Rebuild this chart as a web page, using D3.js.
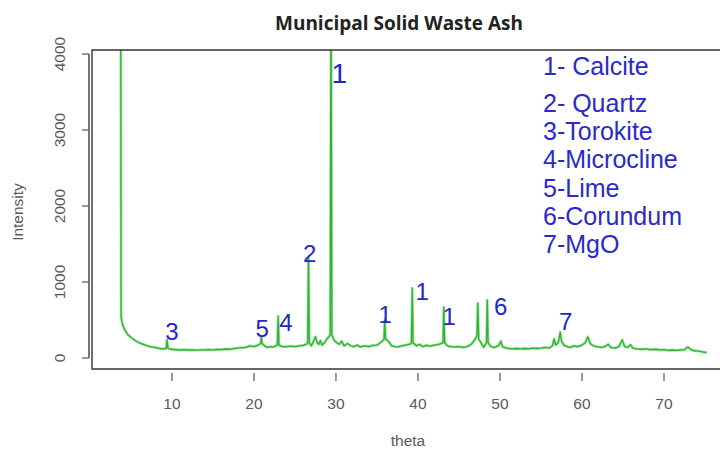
<!DOCTYPE html>
<html>
<head>
<meta charset="utf-8">
<script src="https://cdn.jsdelivr.net/npm/d3@7/dist/d3.min.js"></script>
<style>
  body { margin: 0; background: #fff; }
  svg { display: block; }
</style>
</head>
<body>
<svg id="chart" width="720" height="450"></svg>
<script>
// XRD pattern (theta, intensity)
var theta = [3.75, 3.8, 3.9, 4.0, 4.3, 4.6, 5.0, 5.5, 6.0, 6.5, 7.0, 7.5, 8.0, 8.5, 9.0, 9.3, 9.4, 9.5, 9.8,
  10.5, 11, 11.5, 12, 12.5, 13, 13.5, 14, 14.5, 15, 15.5, 16, 16.5, 17, 17.5, 18, 18.5, 19, 19.5, 20, 20.5,
  20.82, 20.9, 20.98, 21.3, 21.6, 22.0, 22.4, 22.85, 22.95, 23.05, 23.4, 24, 24.5, 25, 25.5, 26, 26.55, 26.65, 26.75,
  27.0, 27.3, 27.5, 27.7, 27.9, 28.1, 28.3, 28.6, 28.9, 29.3, 29.4, 29.5, 29.8, 30.1, 30.4, 30.7, 31.0, 31.4,
  31.8, 32.2, 32.6, 33, 33.5, 34, 34.5, 35, 35.4, 35.85, 35.95, 36.05, 36.4, 36.8, 37.2, 37.6, 38, 38.5, 39.2,
  39.3, 39.4, 39.8, 40.2, 40.6, 41, 41.5, 42, 42.5, 43.05, 43.15, 43.25, 43.6, 44, 44.5, 45, 45.5, 46, 46.5,
  47.0, 47.2, 47.3, 47.4, 47.7, 48.0, 48.35, 48.45, 48.55, 48.9, 49.3, 49.8, 50.1, 50.3, 50.8, 51.5, 52, 52.5,
  53, 53.5, 54, 54.5, 55, 55.5, 56.0, 56.4, 56.6, 56.8, 57.1, 57.35, 57.5, 57.8, 58.2, 58.6, 59, 59.5, 60.0,
  60.4, 60.7, 61.0, 61.4, 61.8, 62.3, 62.8, 63.2, 63.5, 64, 64.5, 64.9, 65.2, 65.6, 65.9, 66.2, 66.7, 67.2,
  67.8, 68.3, 69, 69.5, 70, 70.5, 71, 71.5, 72, 72.5, 72.9, 73.3, 73.7, 74.2, 74.7, 75.2];
var intensity = [5000, 540, 480, 430, 360, 310, 270, 230, 200, 180, 160, 145, 135, 125, 120, 125, 240, 130, 115,
  110, 105, 110, 105, 108, 104, 108, 106, 110, 108, 112, 110, 118, 115, 122, 130, 135, 140, 160, 150, 170,
  190, 280, 190, 160, 140, 150, 145, 170, 550, 170, 150, 150, 155, 150, 160, 165, 190, 1320, 200,
  160, 230, 280, 200, 180, 230, 170, 200, 250, 300, 5000, 300, 230, 200, 180, 220, 160, 190,
  160, 150, 170, 145, 160, 150, 165, 170, 200, 240, 500, 250, 220, 160, 150, 145, 160, 170, 190,
  920, 200, 160, 180, 150, 165, 155, 170, 180, 200, 670, 200, 160, 150, 145, 150, 140, 150, 180,
  250, 300, 720, 250, 200, 140, 200, 760, 200, 150, 140, 160, 220, 150, 130, 120, 125, 120,
  125, 120, 130, 125, 130, 140, 130, 160, 250, 170, 200, 340, 220, 170, 150, 140, 160, 150, 170,
  200, 280, 190, 160, 150, 140, 150, 180, 140, 130, 150, 240, 150, 140, 175, 130, 120, 115,
  120, 110, 115, 105, 110, 100, 105, 100, 105, 110, 145, 110, 95, 90, 80, 70];

var xTicks = [10, 20, 30, 40, 50, 60, 70];
var yTicks = [0, 1000, 2000, 3000, 4000];

// peak markers: label, theta, intensity where the label sits
var peakText = ["1", "2", "3", "5", "4", "1", "1", "1", "6", "7"];
var peakTheta = [30.4, 26.8, 10.0, 21.0, 23.9, 36.0, 40.5, 43.8, 50.1, 58.0];
var peakLevel = [3620, 1260, 240, 275, 355, 460, 760, 430, 560, 370];

var legendText = ["1- Calcite", "2- Quartz", "3-Torokite", "4-Microcline", "5-Lime", "6-Corundum", "7-MgO"];

var svg = d3.select("#chart");

var x = d3.scaleLinear().domain([0.25, 78]).range([92, 729.6]);
var y = d3.scaleLinear().domain([-145, 4053]).range([369, 50]);

svg.append("clipPath").attr("id", "plotclip")
  .append("rect").attr("x", 92).attr("y", 50).attr("width", 640).attr("height", 319);

var pts = theta.map(function(t, i){ return [t, intensity[i]]; });
var line = d3.line().x(function(d){ return x(d[0]); }).y(function(d){ return y(d[1]); });

var g = svg.append("g").attr("clip-path", "url(#plotclip)");
g.append("path").datum(pts).attr("d", line)
  .attr("fill", "none").attr("stroke", "#a6e2a6").attr("stroke-width", 2.8).attr("stroke-linejoin", "round");
g.append("path").datum(pts).attr("d", line)
  .attr("fill", "none").attr("stroke", "#2fb52f").attr("stroke-width", 1.3).attr("stroke-linejoin", "round");

// box
svg.append("path")
  .attr("d", "M730,50H92V369H730")
  .attr("fill", "none").attr("stroke", "#333").attr("stroke-width", 1.4);

var axisFont = "Liberation Sans, Arial, sans-serif";

// y axis (R style, outside the box)
var yAxis = svg.append("g").attr("transform", "translate(89,0)");
yAxis.append("line").attr("x1", 0).attr("x2", 0).attr("y1", y(0)).attr("y2", y(4000))
  .attr("stroke", "#777").attr("stroke-width", 2);
yAxis.selectAll("line.tick").data(yTicks).enter().append("line").attr("class", "tick")
  .attr("x1", -7).attr("x2", 0).attr("y1", function(d){ return y(d); }).attr("y2", function(d){ return y(d); })
  .attr("stroke", "#555").attr("stroke-width", 1.2);
yAxis.selectAll("text").data(yTicks).enter().append("text")
  .attr("transform", function(d){ return "translate(-29," + y(d) + ") rotate(-90)"; })
  .attr("text-anchor", "middle").attr("dy", "0.35em")
  .attr("font-family", axisFont).attr("font-size", 15.5).attr("fill", "#5a5a5a")
  .text(function(d){ return d; });

// x axis
var xAxis = svg.append("g");
xAxis.selectAll("line").data(xTicks).enter().append("line")
  .attr("x1", function(d){ return x(d); }).attr("x2", function(d){ return x(d); })
  .attr("y1", 373).attr("y2", 381).attr("stroke", "#555").attr("stroke-width", 1.2);
xAxis.selectAll("text").data(xTicks).enter().append("text")
  .attr("x", function(d){ return x(d); }).attr("y", 409).attr("text-anchor", "middle")
  .attr("font-family", axisFont).attr("font-size", 15.5).attr("fill", "#5a5a5a")
  .text(function(d){ return d; });

svg.append("text").attr("x", 408).attr("y", 446).attr("text-anchor", "middle")
  .attr("font-family", axisFont).attr("font-size", 15.5).attr("fill", "#5a5a5a")
  .text("theta");
svg.append("text").attr("transform", "translate(18,212) rotate(-90)").attr("text-anchor", "middle")
  .attr("dy", "0.35em")
  .attr("font-family", axisFont).attr("font-size", 15.5).attr("fill", "#5a5a5a")
  .text("Intensity");

// title
svg.append("text").attr("x", 399).attr("y", 30).attr("text-anchor", "middle")
  .attr("font-family", "Open Sans, Liberation Sans, sans-serif").attr("font-weight", "bold")
  .attr("font-size", 19).attr("fill", "#222")
  .text("Municipal Solid Waste Ash");

// peak labels
svg.selectAll("text.peak").data(peakText).enter().append("text").attr("class", "peak")
  .attr("x", function(d, i){ return x(peakTheta[i]); })
  .attr("y", function(d, i){ return y(peakLevel[i]); })
  .attr("text-anchor", "middle")
  .attr("font-family", axisFont)
  .attr("font-size", function(d, i){ return i === 0 ? 28 : 24; })
  .attr("fill", "#2626c8")
  .text(function(d){ return d; });

// legend
var legendY = [75, 112, 140, 168, 197, 225, 253];
svg.selectAll("text.leg").data(legendText).enter().append("text").attr("class", "leg")
  .attr("x", 543).attr("y", function(d, i){ return legendY[i]; })
  .attr("font-family", axisFont).attr("font-size", 25)
  .attr("fill", "#2a2acc")
  .text(function(d){ return d; });
</script>
</body>
</html>
